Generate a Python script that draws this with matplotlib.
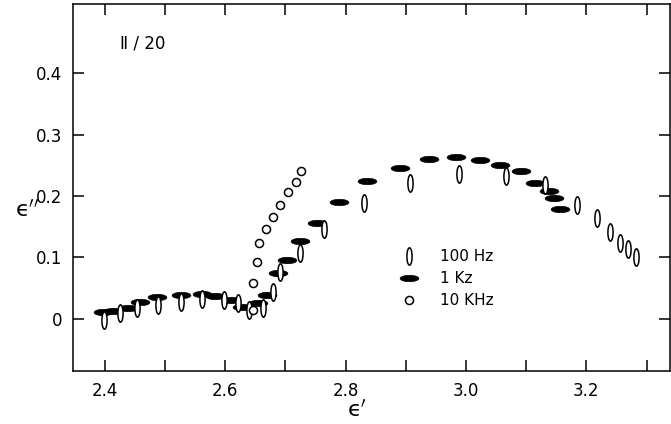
import matplotlib
matplotlib.use("Agg")
import matplotlib.pyplot as plt
from matplotlib.path import Path
import numpy as np

# --- data (eps', eps'') ---
e1_100hz = [2.399, 2.425, 2.453, 2.489, 2.526, 2.562, 2.598, 2.621, 2.639, 2.663,
            2.680, 2.691, 2.725, 2.764, 2.831, 2.907, 2.989, 3.067, 3.131, 3.184,
            3.217, 3.239, 3.256, 3.269, 3.282]
e2_100hz = [-0.002, 0.009, 0.017, 0.023, 0.027, 0.033, 0.031, 0.025, 0.015, 0.017,
            0.043, 0.077, 0.107, 0.146, 0.188, 0.221, 0.236, 0.232, 0.218, 0.186,
            0.164, 0.141, 0.124, 0.113, 0.100]

e1_1khz = [2.397, 2.413, 2.439, 2.458, 2.487, 2.526, 2.561, 2.583, 2.610, 2.628,
           2.655, 2.669, 2.688, 2.703, 2.724, 2.752, 2.789, 2.835, 2.890, 2.938,
           2.984, 3.024, 3.057, 3.091, 3.114, 3.138, 3.146, 3.157]
e2_1khz = [0.011, 0.012, 0.018, 0.027, 0.036, 0.039, 0.041, 0.038, 0.031, 0.019,
           0.026, 0.039, 0.075, 0.096, 0.127, 0.156, 0.191, 0.224, 0.245, 0.260,
           0.263, 0.259, 0.251, 0.241, 0.222, 0.209, 0.197, 0.179]

e1_10khz = [2.646, 2.646, 2.652, 2.656, 2.667, 2.679, 2.691, 2.704, 2.718, 2.726]
e2_10khz = [0.015, 0.058, 0.093, 0.123, 0.146, 0.166, 0.186, 0.206, 0.223, 0.241]

labels = ["100 Hz", "1 Kz", "10 KHz"]
xticks_major = [2.4, 2.6, 2.8, 3.0, 3.2]
xtick_labels = ["2.4", "2.6", "2.8", "3.0", "3.2"]
yticks = [0, 0.1, 0.2, 0.3, 0.4]
ytick_labels = ["0", "0.1", "0.2", "0.3", "0.4"]

plt.rcParams['mathtext.fontset'] = 'dejavusans'

# elliptical markers
circ = Path.unit_circle()
tall = Path(circ.vertices * np.array([0.3, 1.0]), circ.codes)
flat = Path(circ.vertices * np.array([1.0, 0.34]), circ.codes)

fig = plt.figure(figsize=(6.71, 4.24), dpi=100)
ax = fig.add_axes([73 / 671, 53 / 424, 597 / 671, 367 / 424])

ax.plot(e1_100hz, e2_100hz, linestyle='none', marker=tall, markersize=12.5,
        markerfacecolor='white', markeredgecolor='black', markeredgewidth=1.1,
        label=labels[0], zorder=3)
ax.plot(e1_1khz, e2_1khz, linestyle='none', marker=flat, markersize=13.5,
        markerfacecolor='black', markeredgecolor='black', markeredgewidth=0.5,
        label=labels[1], zorder=2)
ax.plot(e1_10khz, e2_10khz, linestyle='none', marker='o', markersize=5.8,
        markerfacecolor='white', markeredgecolor='black', markeredgewidth=1.1,
        label=labels[2], zorder=4)

ax.set_xlim(2.347, 3.339)
ax.set_ylim(-0.085, 0.513)

ax.set_xticks(xticks_major)
ax.set_xticklabels(xtick_labels)
ax.set_xticks([2.5, 2.7, 2.9, 3.1, 3.3], minor=True)
ax.set_yticks(yticks)
ax.set_yticklabels(ytick_labels)

ax.tick_params(which='both', direction='in', top=True, right=True,
               length=8, width=1.1, labelsize=12, pad=8)
for s in ax.spines.values():
    s.set_linewidth(1.1)

# axis labels (lunate epsilon, upright)
fig.text(357 / 671, 1 - 410 / 424, "$\\mathrm{\u03f5}'$", fontsize=16,
         ha='center', va='center')
fig.text(27 / 671, 1 - 210 / 424, "$\\mathrm{\u03f5}''$", fontsize=16,
         ha='center', va='center')

fig.text(120 / 671, 1 - 43 / 424, "\u2161 / 20", fontsize=12,
         ha='left', va='center')

ax.legend(loc='upper left', bbox_to_anchor=(388 / 671, 1 - 243 / 424),
          bbox_transform=fig.transFigure, frameon=False, numpoints=1,
          fontsize=11, handlelength=2.0, handletextpad=1.0, labelspacing=0.45,
          borderaxespad=0)

fig.savefig("out.png", dpi=100)
